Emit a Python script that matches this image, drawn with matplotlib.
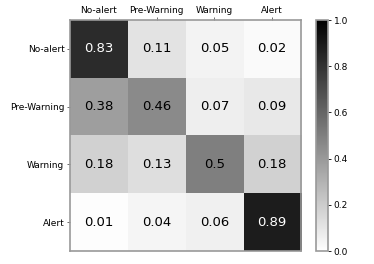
import numpy as np
import matplotlib
matplotlib.use("Agg")
import matplotlib.pyplot as plt

labels = ["No-alert", "Pre-Warning", "Warning", "Alert"]
matrix = np.array([
    [0.83, 0.11, 0.05, 0.02],
    [0.38, 0.46, 0.07, 0.09],
    [0.18, 0.13, 0.5, 0.18],
    [0.01, 0.04, 0.06, 0.89],
])
cell_text = [
    ["0.83", "0.11", "0.05", "0.02"],
    ["0.38", "0.46", "0.07", "0.09"],
    ["0.18", "0.13", "0.5", "0.18"],
    ["0.01", "0.04", "0.06", "0.89"],
]

fig = plt.figure(figsize=(3.74, 2.64), dpi=100)
ax = fig.add_axes([0.187, 0.049, 0.618, 0.875])
cax = fig.add_axes([0.845, 0.049, 0.032, 0.875])

im = ax.imshow(matrix, cmap="gray_r", vmin=0, vmax=1, aspect="auto")
ax.set_xticks(range(4))
ax.set_yticks(range(4))
ax.set_xticklabels(labels, fontsize=6.5)
ax.set_yticklabels(labels, fontsize=6.5)
ax.xaxis.tick_top()
ax.tick_params(length=2.5, width=0.6, pad=1.5, color="#555555")
for s in ax.spines.values():
    s.set_color("#999999")
    s.set_linewidth(1.2)

for i in range(4):
    for j in range(4):
        c = "white" if matrix[i, j] > 0.6 else "black"
        ax.text(j, i, cell_text[i][j], ha="center", va="center", fontsize=9.5, color=c)

cb = fig.colorbar(im, cax=cax)
cb.set_ticks([0, 0.2, 0.4, 0.6, 0.8, 1.0])
cb.ax.tick_params(labelsize=6.5, length=2.5, width=0.6, pad=1.5)
cb.outline.set_edgecolor("#999999")
cb.outline.set_linewidth(1.2)

fig.savefig("out.png", dpi=100)
